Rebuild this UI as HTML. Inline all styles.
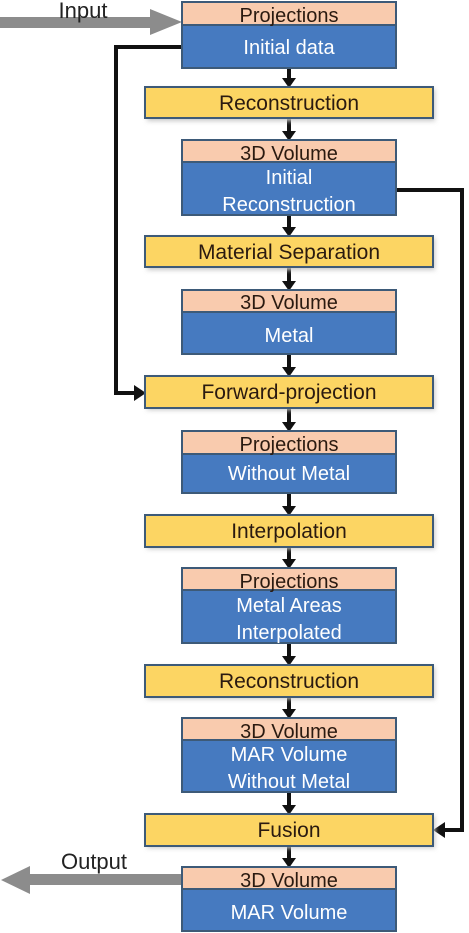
<!DOCTYPE html>
<html><head><meta charset="utf-8"><style>
html,body{margin:0;padding:0;background:#fff;}
svg{display:block;}
text{font-family:"Liberation Sans",sans-serif;text-anchor:middle;}
.h{fill:#2a1a10;font-size:20px;}
.b{fill:#fff;font-size:20px;}
.p{fill:#2a1a10;font-size:21px;}
</style></head><body>
<svg width="469" height="933" viewBox="0 0 469 933" xmlns="http://www.w3.org/2000/svg">
<defs>
<filter id="sh" x="-5%" y="-30%" width="110%" height="160%"><feGaussianBlur stdDeviation="2.5"/></filter>
</defs>
<polyline points="182,47 116,47 116,393 137,393" fill="none" stroke="#111" stroke-width="4"/>
<path d="M134,385 L146,393 L134,401 Z" fill="#111"/>
<polyline points="396,190 462,190 462,830 442,830" fill="none" stroke="#111" stroke-width="4"/>
<path d="M445,822 L433,830 L445,838 Z" fill="#111"/>
<rect x="0" y="17" width="152" height="11" fill="#8c8c8c"/>
<path d="M150,9 L182,22 L150,35 Z" fill="#8c8c8c"/>
<text x="83" y="18" style="font-size:22px;fill:#222">Input</text>
<rect x="28" y="874" width="154" height="11" fill="#8c8c8c"/>
<path d="M30,866 L1,880 L30,894 Z" fill="#8c8c8c"/>
<text x="94" y="869" style="font-size:22px;fill:#222">Output</text>
<g stroke="#111" stroke-width="4">
<line x1="289" y1="68" x2="289" y2="80"/><line x1="289" y1="118" x2="289" y2="133"/>
<line x1="289" y1="215" x2="289" y2="229"/><line x1="289" y1="267" x2="289" y2="283"/>
<line x1="289" y1="354" x2="289" y2="369"/><line x1="289" y1="408" x2="289" y2="424"/>
<line x1="289" y1="493" x2="289" y2="508"/><line x1="289" y1="547" x2="289" y2="561"/>
<line x1="289" y1="643" x2="289" y2="658"/><line x1="289" y1="697" x2="289" y2="711"/>
<line x1="289" y1="792" x2="289" y2="807"/><line x1="289" y1="846" x2="289" y2="860"/>
</g>
<g fill="#111">
<path d="M282,78 L296,78 L289,88 Z"/><path d="M282,131 L296,131 L289,141 Z"/>
<path d="M282,227 L296,227 L289,237 Z"/><path d="M282,281 L296,281 L289,291 Z"/>
<path d="M282,367 L296,367 L289,377 Z"/><path d="M282,422 L296,422 L289,432 Z"/>
<path d="M282,506 L296,506 L289,516 Z"/><path d="M282,559 L296,559 L289,569 Z"/>
<path d="M282,656 L296,656 L289,666 Z"/><path d="M282,709 L296,709 L289,719 Z"/>
<path d="M282,805 L296,805 L289,815 Z"/><path d="M282,858 L296,858 L289,868 Z"/>
</g>
<g>
<rect x="147" y="89" width="288" height="32" fill="#c8c8c8" filter="url(#sh)"/>
<rect x="145" y="87" width="288" height="31" fill="#fcd563" stroke="#3d5a78" stroke-width="2"/>
<text class="p" x="289" y="110">Reconstruction</text>
<rect x="147" y="238" width="288" height="32" fill="#c8c8c8" filter="url(#sh)"/>
<rect x="145" y="236" width="288" height="31" fill="#fcd563" stroke="#3d5a78" stroke-width="2"/>
<text class="p" x="289" y="259">Material Separation</text>
<rect x="147" y="378" width="288" height="32" fill="#c8c8c8" filter="url(#sh)"/>
<rect x="145" y="376" width="288" height="32" fill="#fcd563" stroke="#3d5a78" stroke-width="2"/>
<text class="p" x="289" y="399">Forward-projection</text>
<rect x="147" y="517" width="288" height="32" fill="#c8c8c8" filter="url(#sh)"/>
<rect x="145" y="515" width="288" height="32" fill="#fcd563" stroke="#3d5a78" stroke-width="2"/>
<text class="p" x="289" y="538">Interpolation</text>
<rect x="147" y="667" width="288" height="32" fill="#c8c8c8" filter="url(#sh)"/>
<rect x="145" y="665" width="288" height="32" fill="#fcd563" stroke="#3d5a78" stroke-width="2"/>
<text class="p" x="289" y="688">Reconstruction</text>
<rect x="147" y="816" width="288" height="32" fill="#c8c8c8" filter="url(#sh)"/>
<rect x="145" y="814" width="288" height="32" fill="#fcd563" stroke="#3d5a78" stroke-width="2"/>
<text class="p" x="289" y="837">Fusion</text>
</g>
<g stroke="#3d5a78" stroke-width="2">
<rect x="182" y="2" width="214" height="66" fill="#467ac0"/><rect x="182" y="2" width="214" height="23" fill="#f9cbae"/>
<rect x="182" y="140" width="214" height="75" fill="#467ac0"/><rect x="182" y="140" width="214" height="22" fill="#f9cbae"/>
<rect x="182" y="290" width="214" height="64" fill="#467ac0"/><rect x="182" y="290" width="214" height="22" fill="#f9cbae"/>
<rect x="182" y="431" width="214" height="62" fill="#467ac0"/><rect x="182" y="431" width="214" height="23" fill="#f9cbae"/>
<rect x="182" y="568" width="214" height="75" fill="#467ac0"/><rect x="182" y="568" width="214" height="22" fill="#f9cbae"/>
<rect x="182" y="718" width="214" height="74" fill="#467ac0"/><rect x="182" y="718" width="214" height="22" fill="#f9cbae"/>
<rect x="182" y="867" width="214" height="64" fill="#467ac0"/><rect x="182" y="867" width="214" height="22" fill="#f9cbae"/>
</g>
<text class="h" x="289" y="22">Projections</text>
<text class="b" x="289" y="54">Initial data</text>
<text class="h" x="289" y="160">3D Volume</text>
<text class="b" x="289" y="184">Initial</text>
<text class="b" x="289" y="211">Reconstruction</text>
<text class="h" x="289" y="309">3D Volume</text>
<text class="b" x="289" y="342">Metal</text>
<text class="h" x="289" y="451">Projections</text>
<text class="b" x="289" y="480">Without Metal</text>
<text class="h" x="289" y="588">Projections</text>
<text class="b" x="289" y="612">Metal Areas</text>
<text class="b" x="289" y="639">Interpolated</text>
<text class="h" x="289" y="738">3D Volume</text>
<text class="b" x="289" y="761">MAR Volume</text>
<text class="b" x="289" y="788">Without Metal</text>
<text class="h" x="289" y="887">3D Volume</text>
<text class="b" x="289" y="919">MAR Volume</text>
</svg>
</body></html>
